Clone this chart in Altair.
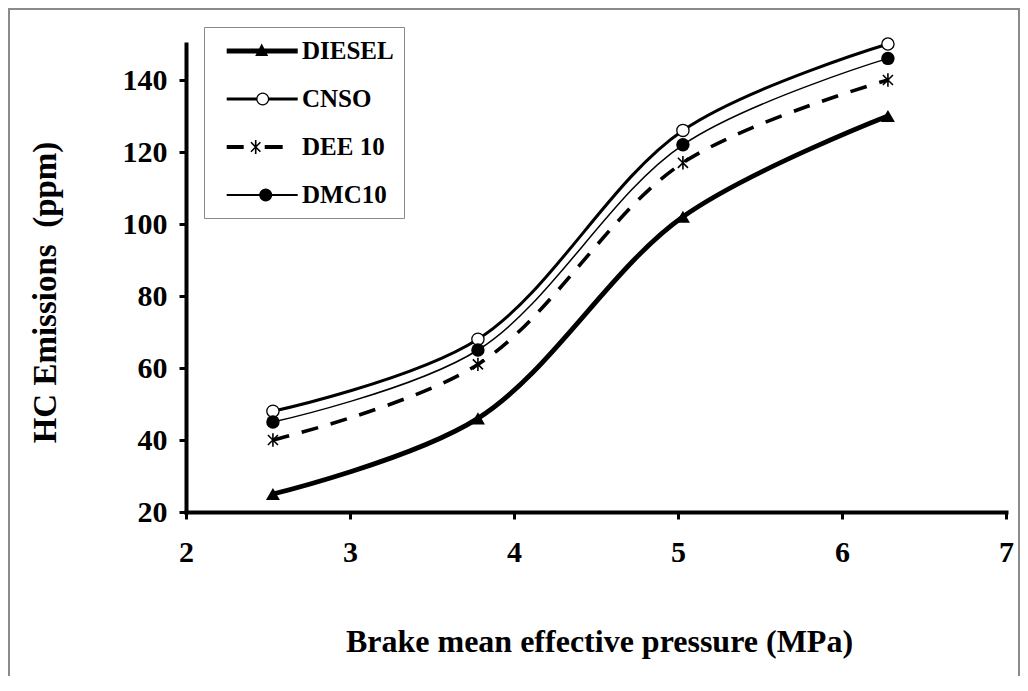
import math
import altair as alt
import pandas as pd

# ---- data ----
bmep = [2.53, 3.78, 5.03, 6.28]
diesel = [25, 46, 102, 130]
cnso = [48, 68, 126, 150]
dee10 = [40, 61, 117, 140]
dmc10 = [45, 65, 122, 146]
series_names = ["DIESEL", "CNSO", "DEE 10", "DMC10"]
x_ticks = [2, 3, 4, 5, 6, 7]
y_ticks = [20, 40, 60, 80, 100, 120, 140]

rows = []
for name, vals in zip(series_names, [diesel, cnso, dee10, dmc10]):
    for xv, yv in zip(bmep, vals):
        rows.append({"series": name, "bmep": xv, "hc": yv})
df = pd.DataFrame(rows)

FONT = "Liberation Serif"

# ---- legend symbol paths (line + marker), all drawn as filled shapes ----
U = 14.0      # px per path unit (symbol size 784 -> sqrt/2 = 14)
CX = 228.3    # page x of symbol centre


def u(px):
    return (px - CX) / U


def rect(x0, x1, half):
    a, b = u(x0), u(x1)
    h = half / U
    return f"M{a:.3f},{-h:.3f}L{b:.3f},{-h:.3f}L{b:.3f},{h:.3f}L{a:.3f},{h:.3f}Z"


def circle(cx, r, rev=False, n=28):
    pts = []
    for i in range(n):
        t = 2 * math.pi * i / n * (-1 if rev else 1)
        pts.append((u(cx) + r / U * math.cos(t), r / U * math.sin(t)))
    return "M" + "L".join(f"{px:.3f},{py:.3f}" for px, py in pts) + "Z"


def tri(cx, w, up, down):
    return (f"M{u(cx - w):.3f},{down / U:.3f}L{u(cx):.3f},{-up / U:.3f}"
            f"L{u(cx + w):.3f},{down / U:.3f}Z")


def arm(cx, r, w, ang):
    c = u(cx)
    dx, dy = math.cos(ang), math.sin(ang)
    nx, ny = -dy, dx
    R, W = r / U, w / U
    pts = [(c - dx * R - nx * W, -dy * R - ny * W),
           (c + dx * R - nx * W, dy * R - ny * W),
           (c + dx * R + nx * W, dy * R + ny * W),
           (c - dx * R + nx * W, -dy * R + ny * W)]
    area = sum(pts[i][0] * pts[(i + 1) % 4][1] - pts[(i + 1) % 4][0] * pts[i][1]
               for i in range(4))
    if area < 0:
        pts = pts[::-1]
    return "M" + "L".join(f"{px:.3f},{py:.3f}" for px, py in pts) + "Z"


def aster(cx, r, w=0.8):
    return (arm(cx, r, w, math.pi / 2) + arm(cx, r * 0.95, w, math.pi / 4)
            + arm(cx, r * 0.95, w, 3 * math.pi / 4))


leg_diesel = rect(227, 298, 2.4) + tri(262, 6.5, 7.5, 5)
leg_cnso = (rect(227, 257, 1.6) + rect(269, 298, 1.6)
            + circle(263, 6.5) + circle(263, 5.2, rev=True))
leg_dee = rect(227, 244, 2.1) + rect(265, 283, 2.1) + aster(256, 7)
leg_dmc = rect(227, 298, 0.9) + circle(266, 6.5)
legend_paths = [leg_diesel, leg_cnso, leg_dee, leg_dmc]

asterisk_shape = "M-0.75,-0.75L0.75,0.75M-0.75,0.75L0.75,-0.75M0,-1L0,1"

# ---- scales / axes ----
xaxis = alt.Axis(values=x_ticks, format="d", grid=False, labelFlush=False,
                 domainColor="black", domainWidth=4, domainCap="square",
                 tickColor="black", tickWidth=3, tickSize=7,
                 labelFont=FONT, labelFontSize=30, labelFontWeight="bold",
                 labelColor="black", labelPadding=18,
                 title="Brake mean effective pressure (MPa)", titleFont=FONT,
                 titleFontSize=32, titleFontWeight="bold", titleColor="black",
                 titleX=413, titleY=129, titleBaseline="middle", titleAlign="center")
yaxis = alt.Axis(values=y_ticks, format="d", grid=False, labelFlush=False,
                 domainColor="black", domainWidth=4, domainCap="square",
                 tickColor="black", tickWidth=3, tickSize=7,
                 labelFont=FONT, labelFontSize=30, labelFontWeight="bold",
                 labelColor="black", labelPadding=12,
                 title="HC Emissions\u00a0 (ppm)", titleFont=FONT,
                 titleFontSize=33, titleFontWeight="bold", titleColor="black",
                 titleX=-141, titleY=248, titleAngle=270,
                 titleBaseline="middle", titleAlign="center")

X = alt.X("bmep:Q", scale=alt.Scale(domain=[2, 7], nice=False, zero=False), axis=xaxis)
Y = alt.Y("hc:Q", scale=alt.Scale(domain=[20, 150], nice=False, zero=False), axis=yaxis)

base = alt.Chart(df)


def sel(name):
    return base.transform_filter(alt.datum.series == name)


frame = alt.Chart(pd.DataFrame({"k": [0]})).mark_rect(
    fillOpacity=0, stroke="#8a8a8a", strokeWidth=2
).encode(x=alt.value(-177), x2=alt.value(833), y=alt.value(-35), y2=alt.value(700))

l_diesel = sel("DIESEL").mark_line(interpolate="catmull-rom", color="black",
                                   strokeWidth=4.8).encode(x=X, y=Y)
l_cnso = sel("CNSO").mark_line(interpolate="catmull-rom", color="black",
                               strokeWidth=3).encode(x=X, y=Y)
l_dee = sel("DEE 10").mark_line(interpolate="catmull-rom", color="black",
                                strokeWidth=3.6, strokeDash=[17, 13]).encode(x=X, y=Y)
l_dmc = sel("DMC10").mark_line(interpolate="catmull-rom", color="black",
                               strokeWidth=1.5).encode(x=X, y=Y)

p_diesel = sel("DIESEL").mark_point(shape="triangle-up", filled=True, color="black",
                                    size=196, opacity=1).encode(x=X, y=Y)
p_cnso = sel("CNSO").mark_point(shape="circle", fill="white", stroke="black",
                                strokeWidth=1.3, size=150, opacity=1).encode(x=X, y=Y)
p_dee = sel("DEE 10").mark_point(shape=asterisk_shape, filled=False, stroke="black",
                                 strokeWidth=1.6, size=180, opacity=1).encode(x=X, y=Y)
p_dmc = sel("DMC10").mark_point(shape="circle", filled=True, color="black",
                                size=180, opacity=1).encode(x=X, y=Y)

legend_layer = base.transform_filter("datum.hc < 0").mark_point(
    filled=True, color="black", size=784, opacity=1
).encode(
    x=X, y=Y,
    shape=alt.Shape("series:N", title=None,
                    scale=alt.Scale(domain=series_names, range=legend_paths),
                    legend=alt.Legend(orient="none", legendX=18, legendY=-17,
                                      padding=10, rowPadding=21, labelOffset=60,
                                      symbolSize=784,
                                      strokeColor="#8a8a8a", fillColor="white",
                                      symbolFillColor="black",
                                      symbolStrokeWidth=0, symbolOpacity=1,
                                      labelFont=FONT, labelFontSize=25,
                                      labelFontWeight="bold", labelColor="black"))
)

chart = alt.layer(
    frame, l_diesel, l_cnso, l_dee, l_dmc,
    p_diesel, p_cnso, p_dee, p_dmc, legend_layer
).properties(
    width=820, height=468,
    padding={"left": 178, "top": 36, "right": 14, "bottom": 164},
    autosize=alt.AutoSizeParams(type="none"),
    background="white",
).configure_view(strokeWidth=0)

chart.save("out.html", embed_options={"renderer": "svg", "actions": False})
